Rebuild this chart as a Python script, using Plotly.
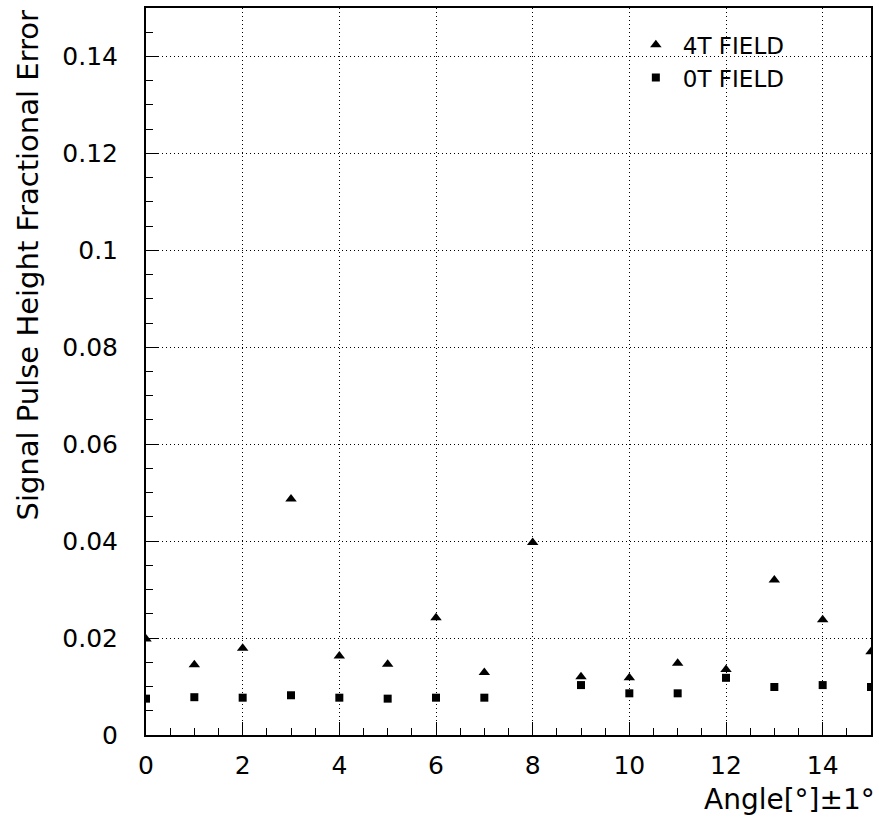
import plotly.graph_objects as go

angles = [0, 1, 2, 3, 4, 5, 6, 7, 8, 9, 10, 11, 12, 13, 14, 15]
err_4t = [0.0198, 0.0145, 0.0179, 0.0487, 0.0163, 0.0146, 0.0242, 0.0129,
          0.0397, 0.0120, 0.0118, 0.0148, 0.0135, 0.0320, 0.0238, 0.0172]
err_0t = [0.0075, 0.0078, 0.0077, 0.0082, 0.0077, 0.0075, 0.0077, 0.0077,
          None, 0.0103, 0.0086, 0.0086, 0.0118, 0.0099, 0.0103, 0.0099]

x_tickvals = [0, 2, 4, 6, 8, 10, 12, 14]
x_ticktext = ["0", "2", "4", "6", "8", "10", "12", "14"]
y_tickvals = [0, 0.02, 0.04, 0.06, 0.08, 0.10, 0.12, 0.14]
y_ticktext = ["0", "0.02", "0.04", "0.06", "0.08", "0.1", "0.12", "0.14"]

FONT = "DejaVu Sans"

fig = go.Figure()
fig.add_trace(go.Scatter(x=angles, y=err_4t, mode="markers", name="4T FIELD",
                         marker=dict(symbol="triangle-up", size=10, color="black")))
fig.add_trace(go.Scatter(x=angles, y=err_0t, mode="markers", name="0T FIELD",
                         marker=dict(symbol="square", size=8, color="black")))

axis_common = dict(
    showline=True, linecolor="black", linewidth=2, mirror=True,
    showgrid=True, gridcolor="black", griddash="1px,3px", gridwidth=1,
    zeroline=False, ticks="inside", ticklen=13, tickwidth=1, tickcolor="black",
    tickfont=dict(family=FONT, size=25, color="black"),
)

fig.update_xaxes(range=[0, 15], tickmode="array", tickvals=x_tickvals, ticktext=x_ticktext,
                 minor=dict(dtick=0.5, ticks="inside", ticklen=7, tickcolor="black", showgrid=False),
                 ticklabelstandoff=7, **axis_common)
fig.update_yaxes(range=[0, 0.15], tickmode="array", tickvals=y_tickvals, ticktext=y_ticktext,
                 minor=dict(dtick=0.005, ticks="inside", ticklen=7, tickcolor="black", showgrid=False),
                 ticklabelstandoff=21, **axis_common)

fig.add_annotation(text="Angle[°]±1°", xref="paper", yref="paper", x=1, y=0,
                   xanchor="right", yanchor="middle", yshift=-64, xshift=6, showarrow=False,
                   font=dict(family=FONT, size=28, color="black"))
fig.add_annotation(text="Signal Pulse Height Fractional Error", xref="paper", yref="paper",
                   x=0, y=1, xanchor="center", yanchor="top", xshift=-119, yshift=0,
                   textangle=-90, showarrow=False,
                   font=dict(family=FONT, size=29, color="black"))

fig.update_layout(
    width=879, height=823,
    margin=dict(l=146, r=6, t=8, b=88),
    paper_bgcolor="white", plot_bgcolor="white",
    showlegend=True,
    legend=dict(x=0.666, y=0.979, xanchor="left", yanchor="top",
                bgcolor="rgba(0,0,0,0)", font=dict(family=FONT, size=23, color="black"),
                itemwidth=44, tracegroupgap=0),
)

fig.write_html("out.html", config={"displayModeBar": False},
               post_script="document.body.style.margin='0';document.body.style.padding='0';")
